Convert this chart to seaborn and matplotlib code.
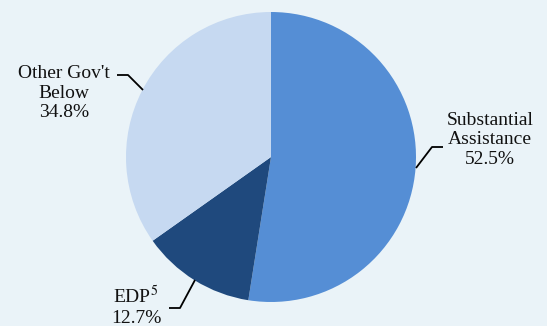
import matplotlib
matplotlib.use("Agg")
import matplotlib.pyplot as plt
import seaborn as sns

# Share of cases by category
categories = ["Substantial\nAssistance", "EDP$^{5}$", "Other Gov't\nBelow"]
shares = [52.5, 12.7, 34.8]
slice_colors = ["#558ED5", "#1F497D", "#C6D9F1"]
background = "#EAF3F8"

sns.set_theme(style="white")
plt.rcParams["font.family"] = ["Liberation Serif", "DejaVu Serif"]
plt.rcParams["mathtext.fontset"] = "stix"

fig = plt.figure(figsize=(5.47, 3.26), dpi=100, facecolor=background)
ax = fig.add_axes([0, 0, 1, 1])
ax.set_facecolor(background)

ax.pie(shares, colors=slice_colors, startangle=90, counterclock=False,
       center=(271, 169), radius=145, frame=True,
       wedgeprops=dict(linewidth=0))
ax.set_xlim(0, 547)
ax.set_ylim(0, 326)
ax.set_aspect("equal")
ax.axis("off")

# Label text blocks with elbow leader lines
label_pos = [(490, 186), (136, 20), (64, 233)]
leaders = [
    [(416, 158), (432, 179), (443, 179)],
    [(195, 46), (180, 18), (169, 18)],
    [(143, 236), (128, 251), (117, 251)],
]
for name, val, (tx, ty), pts in zip(categories, shares, label_pos, leaders):
    ax.text(tx, ty, f"{name}\n{val:.1f}%", ha="center", va="center",
            multialignment="center", fontsize=14, color="#111111",
            linespacing=1.2)
    xs, ys = zip(*pts)
    ax.plot(xs, ys, color="black", linewidth=1.3, solid_capstyle="butt")

fig.savefig("out.png", dpi=100, facecolor=background)
